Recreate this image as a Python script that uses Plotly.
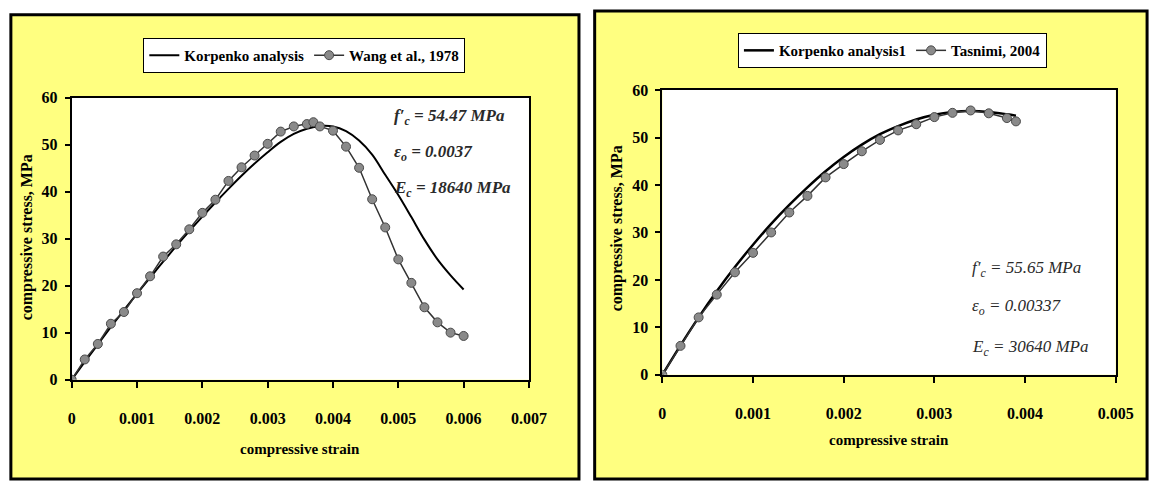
import plotly.graph_objects as go

W, H = 1169, 490

# ---------------- data ----------------
# Left chart: Korpenko analysis vs Wang et al., 1978
wang_strain = [0, 0.0002, 0.0004, 0.0006, 0.0008, 0.001, 0.0012, 0.0014, 0.0016, 0.0018,
               0.002, 0.0022, 0.0024, 0.0026, 0.0028, 0.003, 0.0032, 0.0034, 0.0036, 0.0037,
               0.0038, 0.004, 0.0042, 0.0044, 0.0046, 0.0048, 0.005, 0.0052, 0.0054, 0.0056,
               0.0058, 0.006]
wang_stress = [0, 4.3, 7.6, 11.9, 14.4, 18.4, 22.0, 26.2, 28.8, 32.0,
               35.5, 38.3, 42.3, 45.2, 47.7, 50.2, 52.8, 53.9, 54.4, 54.8,
               53.9, 53.0, 49.6, 45.1, 38.4, 32.4, 25.6, 20.6, 15.4, 12.2,
               10.0, 9.3]

korp1_strain = [0, 0.0002, 0.0004, 0.0006, 0.0008, 0.001, 0.0012, 0.0014, 0.0016, 0.0018,
                0.002, 0.0022, 0.0024, 0.0026, 0.0028, 0.003, 0.0032, 0.0034, 0.0036, 0.0038,
                0.004, 0.0042, 0.0044, 0.0046, 0.0048, 0.005, 0.0052, 0.0054, 0.0056, 0.0058,
                0.006]
korp1_stress = [0, 3.8, 7.5, 11.2, 14.8, 18.3, 21.7, 25.1, 28.4, 31.6,
                34.7, 37.7, 40.6, 43.4, 46.0, 48.4, 50.6, 52.3, 53.4, 54.0,
                53.9, 52.9, 50.9, 47.9, 43.6, 39.3, 34.6, 29.8, 25.6, 22.2,
                19.2]

# Right chart: Korpenko analysis1 vs Tasnimi, 2004
tas_strain = [0, 0.0002, 0.0004, 0.0006, 0.0008, 0.001, 0.0012, 0.0014, 0.0016, 0.0018,
              0.002, 0.0022, 0.0024, 0.0026, 0.0028, 0.003, 0.0032, 0.0034, 0.0036, 0.0038,
              0.0039]
tas_stress = [0, 6.1, 12.1, 16.9, 21.6, 25.7, 30.0, 34.2, 37.7, 41.6,
              44.4, 47.1, 49.5, 51.5, 52.8, 54.3, 55.2, 55.7, 55.1, 54.1,
              53.4]

korp2_strain = [0, 0.0002, 0.0004, 0.0006, 0.0008, 0.001, 0.0012, 0.0014, 0.0016, 0.0018,
                0.002, 0.0022, 0.0024, 0.0026, 0.0028, 0.003, 0.0032, 0.0034, 0.0036, 0.0038,
                0.0039]
korp2_stress = [0, 6.2, 12.1, 17.6, 22.7, 27.4, 31.8, 35.8, 39.5, 42.9,
                45.9, 48.5, 50.7, 52.4, 53.8, 54.8, 55.4, 55.6, 55.4, 54.9,
                54.6]

left_xticks = [0, 0.001, 0.002, 0.003, 0.004, 0.005, 0.006, 0.007]
left_xtext = ["0", "0.001", "0.002", "0.003", "0.004", "0.005", "0.006", "0.007"]
right_xticks = [0, 0.001, 0.002, 0.003, 0.004, 0.005]
right_xtext = ["0", "0.001", "0.002", "0.003", "0.004", "0.005"]
yticks = [0, 10, 20, 30, 40, 50, 60]

left_params = ["<i><b>f′<sub>c</sub> = 54.47 MPa</b></i>",
               "<i><b>ε<sub>o</sub> = 0.0037</b></i>",
               "<i><b>E<sub>c</sub> = 18640 MPa</b></i>"]
right_params = ["<i>f′<sub>c</sub> = 55.65 MPa</i>",
                "<i>ε<sub>o</sub> = 0.00337</i>",
                "<i>E<sub>c</sub> = 30640 MPa</i>"]

# ---------------- helpers ----------------
FONT = "Liberation Serif, Times New Roman, serif"
YELLOW = "#FFFF80"


def px(x):
    return x / W


def py(y):
    return 1 - y / H


fig = go.Figure()

marker_style = dict(symbol="circle", size=9, color="#8a8a8a",
                    line=dict(color="#4a4a4a", width=1))

fig.add_trace(go.Scatter(x=korp1_strain, y=korp1_stress, mode="lines",
                         name="Korpenko analysis", line=dict(color="black", width=2, shape="spline"),
                         xaxis="x", yaxis="y", legend="legend"))
fig.add_trace(go.Scatter(x=wang_strain, y=wang_stress, mode="lines+markers",
                         name="Wang et al., 1978", line=dict(color="#333333", width=1.5),
                         marker=marker_style, xaxis="x", yaxis="y", legend="legend"))

fig.add_trace(go.Scatter(x=korp2_strain, y=korp2_stress, mode="lines",
                         name="Korpenko analysis1", line=dict(color="black", width=2.5, shape="spline"),
                         xaxis="x2", yaxis="y2", legend="legend2"))
fig.add_trace(go.Scatter(x=tas_strain, y=tas_stress, mode="lines+markers",
                         name="Tasnimi, 2004", line=dict(color="#333333", width=1.5),
                         marker=marker_style, xaxis="x2", yaxis="y2", legend="legend2"))

tickfont = dict(family=FONT, size=16, color="black", weight="bold")

common_x = dict(showgrid=False, zeroline=False, showline=True, linecolor="black", linewidth=2,
                mirror=True, ticks="outside", ticklen=6, tickwidth=1.5, tickcolor="black",
                tickfont=tickfont, ticklabelstandoff=17)
common_y = dict(showgrid=False, zeroline=False, showline=True, linecolor="black", linewidth=2,
                mirror=True, ticks="outside", ticklen=5, tickwidth=1.5, tickcolor="black",
                tickfont=tickfont, tickvals=yticks, range=[0, 60], ticklabelstandoff=4)

legend_font = dict(family=FONT, size=15, color="black", weight="bold")

fig.update_layout(
    width=W, height=H,
    margin=dict(l=0, r=0, t=0, b=0),
    paper_bgcolor="white",
    plot_bgcolor="white",
    xaxis=dict(domain=[px(69), px(535)], range=[0, 0.007], anchor="y",
               tickvals=left_xticks, ticktext=left_xtext, **common_x),
    yaxis=dict(domain=[py(385), py(93)], anchor="x", **common_y),
    xaxis2=dict(domain=[px(671), px(1133)], range=[0, 0.005], anchor="y2",
                tickvals=right_xticks, ticktext=right_xtext, **common_x),
    yaxis2=dict(domain=[py(380), py(85)], anchor="x2", **common_y),
    legend=dict(orientation="h", x=px(142), y=py(31), xanchor="left", yanchor="top",
                bgcolor="white", bordercolor="black", borderwidth=1, font=legend_font),
    legend2=dict(orientation="h", x=px(748), y=py(26), xanchor="left", yanchor="top",
                 bgcolor="white", bordercolor="black", borderwidth=1, font=legend_font),
    showlegend=True,
)

shapes = [
    # yellow panels
    dict(type="rect", xref="paper", yref="paper", x0=px(7), x1=px(586), y0=py(488), y1=py(7),
         fillcolor=YELLOW, line=dict(color="black", width=3), layer="below"),
    dict(type="rect", xref="paper", yref="paper", x0=px(602), x1=px(1165), y0=py(488), y1=py(3),
         fillcolor=YELLOW, line=dict(color="black", width=3), layer="below"),
    # white plot areas on top of the panels
    dict(type="rect", xref="x domain", yref="y domain", x0=0, x1=1, y0=0, y1=1,
         fillcolor="white", line=dict(width=0), layer="below"),
    dict(type="rect", xref="x2 domain", yref="y2 domain", x0=0, x1=1, y0=0, y1=1,
         fillcolor="white", line=dict(width=0), layer="below"),
]
fig.update_layout(shapes=shapes)

title_font = dict(family=FONT, size=15, color="black", weight="bold")
ytitle_font = dict(family=FONT, size=16, color="black", weight="bold")
ann = [
    dict(text="compressive strain", x=px(302), y=py(457), xref="paper", yref="paper",
         showarrow=False, font=title_font, xanchor="center", yanchor="middle"),
    dict(text="compressive stress, MPa", x=px(23), y=py(238), xref="paper", yref="paper",
         showarrow=False, font=ytitle_font, textangle=-90, xanchor="center", yanchor="middle"),
    dict(text="compressive strain", x=px(902), y=py(448), xref="paper", yref="paper",
         showarrow=False, font=title_font, xanchor="center", yanchor="middle"),
    dict(text="compressive stress, MPa", x=px(625), y=py(228), xref="paper", yref="paper",
         showarrow=False, font=ytitle_font, textangle=-90, xanchor="center", yanchor="middle"),
]

param_font = dict(family=FONT, size=17, color="#2a2a2a")
for txt, yy in zip(left_params, [113, 150, 188]):
    ann.append(dict(text=txt, x=px(395), y=py(yy), xref="paper", yref="paper",
                    showarrow=False, font=param_font, xanchor="left", yanchor="middle"))
for txt, yy in zip(right_params, [270, 310, 352]):
    ann.append(dict(text=txt, x=px(985), y=py(yy), xref="paper", yref="paper",
                    showarrow=False, font=param_font, xanchor="left", yanchor="middle"))

fig.update_layout(annotations=ann)

fig.write_html("out.html")
